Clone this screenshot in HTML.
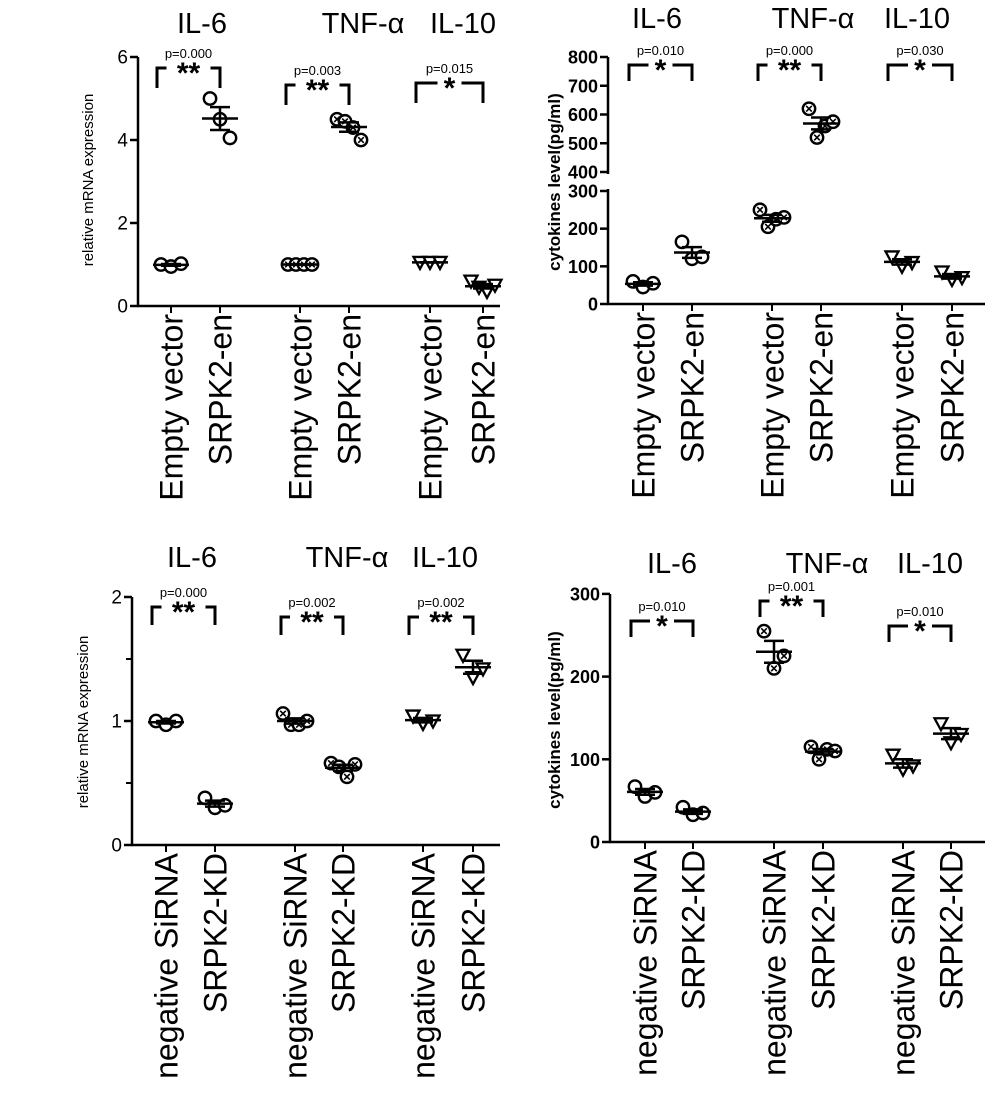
<!DOCTYPE html>
<html><head><meta charset="utf-8"><style>
html,body{margin:0;padding:0;background:#fff;}
svg{display:block;}
</style></head><body>
<svg id="chart" width="992" height="1108" viewBox="0 0 992 1108" xmlns="http://www.w3.org/2000/svg" font-family="Liberation Sans, Arial, sans-serif"></svg>
<script>
// ---- data ----
const cytokines = ['IL-6','TNF-α','IL-10'];
const topLabels = ['Empty vector','SRPK2-en'];
const botLabels = ['negative SiRNA','SRPK2-KD'];
const tlValues = [[1.0,0.95,1.02],[5.0,4.5,4.05],[1,1,1,1],[4.5,4.45,4.3,4.0],[1.05,1.05,1.05],[0.6,0.45,0.35,0.5]];
const tlP = ['p=0.000','p=0.003','p=0.015'];
const tlStars = ['**','**','*'];
const tlTicks = [0,2,4,6];
const trValues = [[60,45,55],[165,120,125],[250,205,225,230],[620,520,560,575],[125,100,110],[85,65,70]];
const trP = ['p=0.010','p=0.000','p=0.030'];
const trStars = ['*','**','*'];
const trTicksLow = [0,100,200,300];
const trTicksHigh = [400,500,600,700,800];
const blValues = [[1.0,0.97,1.0],[0.38,0.3,0.32],[1.06,0.97,0.97,1.0],[0.66,0.63,0.55,0.65],[1.04,0.98,1.0],[1.53,1.35,1.42]];
const blP = ['p=0.000','p=0.002','p=0.002'];
const blStars = ['**','**','**'];
const blTicks = [0,1,2];
const blMinor = [0.5,1.5];
const brValues = [[67,55,60],[42,33,35],[255,210,225],[115,100,112,110],[105,88,92],[143,120,130]];
const brP = ['p=0.010','p=0.001','p=0.010'];
const brStars = ['*','**','*'];
const brTicks = [0,100,200,300];

const svg = document.getElementById('chart');
const NS = 'http://www.w3.org/2000/svg';
function mk(tag, attrs, parent, text){
  const e = document.createElementNS(NS, tag);
  for (const k in attrs) e.setAttribute(k, attrs[k]);
  if (text !== undefined) e.textContent = text;
  (parent||svg).appendChild(e);
  return e;
}
function line(g,x1,y1,x2,y2,w){ return mk('line',{x1,y1,x2,y2,stroke:'#000','stroke-width':w||2.5},g); }

function marker(g, type, x, y){
  if (type === 2){
    const p = mk('path',{d:`M${x-6.5},${y-5.5} L${x+6.5},${y-5.5} L${x},${y+6.5} Z`,fill:'#fff',stroke:'#000','stroke-width':2.3},g);
    
    
  } else {
    const c = mk('circle',{cx:x,cy:y,r:6.2,fill:'#fff',stroke:'#000','stroke-width':2.4},g);
    
    
    if (type === 1){
      mk('path',{d:`M${x-2.8},${y-2.8}L${x+2.8},${y+2.8}M${x+2.8},${y-2.8}L${x-2.8},${y+2.8}`,stroke:'#000','stroke-width':1.6},g);
    }
  }
}

function panel(cfg){
  const g = mk('g',{});
  
  
  const y = cfg.yScale;
  const ax = mk('g',{},g);
  
  
  cfg.axisSegments.forEach(s => line(ax, cfg.axX, s[0], cfg.axX, s[1], 2.5));
  cfg.ticks.forEach(t => {
    line(ax, cfg.axX - 8, y(t), cfg.axX, y(t), 2.5);
    const tl = mk('text',{x:cfg.axX-10,y:y(t)+6.5,'text-anchor':'end','font-size':cfg.tickFont,'font-weight':cfg.bold?'bold':'normal'},ax, String(t));
    
    
  });
  (cfg.minor||[]).forEach(t => line(ax, cfg.axX - 6, y(t), cfg.axX, y(t), 2));
  const yt = mk('text',{transform:`translate(${cfg.ytX},${cfg.ytY}) rotate(-90)`,'text-anchor':'middle','font-size':cfg.ytFont,'font-weight':cfg.bold?'bold':'normal'},g, cfg.yTitle);
  
  
  const xa = mk('g',{},g);
  
  
  line(xa, cfg.axX-1, y(0), cfg.axEnd, y(0), 2.5);
  cfg.xs.forEach((gx,i) => {
    line(xa, gx, y(0), gx, y(0)+7, 2);
    const lb = mk('text',{transform:`translate(${gx+cfg.labFont*0.36},${y(0)+8}) rotate(-90)`,'text-anchor':'end','font-size':cfg.labFont},xa, cfg.labels[i%2]);
    
    
  });
  cytokines.forEach((c,i) => {
    const t = mk('text',{x:cfg.titleX[i],y:cfg.titleY,'text-anchor':'middle','font-size':29},g,c);
    
    
  });
  cfg.values.forEach((vals,gi) => {
    const gg = mk('g',{},g);
    
    
    const type = Math.floor(gi/2);
    const cx = cfg.xs[gi];
    const n = vals.length;
    vals.forEach((v,k) => {
      const off = (k - (n-1)/2) * (n===4?8:10);
      marker(gg, type, cx+off, y(v));
    });
    const mean = vals.reduce((a,b)=>a+b,0)/n;
    const sd = Math.sqrt(vals.reduce((a,b)=>a+(b-mean)*(b-mean),0)/(n-1));
    const sem = sd/Math.sqrt(n);
    const ml = line(gg, cx-18, y(mean), cx+18, y(mean), 2.5);
    
    
    line(gg, cx, y(mean+sem), cx, y(mean-sem), 2.5);
    line(gg, cx-10, y(mean+sem), cx+10, y(mean+sem), 2.5);
    line(gg, cx-10, y(mean-sem), cx+10, y(mean-sem), 2.5);
  });
  cytokines.forEach((c,i) => {
    const bg = mk('g',{},g);
    
    
    const x1 = cfg.xs[2*i]-14, x2 = cfg.xs[2*i+1], top = cfg.brTop[i], bot = top+cfg.brLeg;
    const cxm = (x1+x2)/2;
    const sw = cfg.stars[i].length === 2 ? 22 : 12;
    mk('path',{d:`M${x1},${bot}L${x1},${top}L${cxm-sw},${top}M${cxm+sw},${top}L${x2},${top}L${x2},${bot}`,fill:'none',stroke:'#000','stroke-width':3},bg);
    mk('text',{x:cxm,y:top+15,'text-anchor':'middle','font-size':30,'font-weight':'bold'},bg,cfg.stars[i]);
    const pt = mk('text',{x:cxm,y:top-10,'text-anchor':'middle','font-size':13},bg,cfg.p[i]);
    
    
  });
}

panel({name:'panel-mrna-overexpression', values:tlValues, p:tlP, stars:tlStars, ticks:tlTicks,
  yScale:v=>306-v*41.5, axisSegments:[[57,306]], axX:138, axEnd:500,
  xs:[171,220,300,349,430,483], labels:topLabels, labFont:32, tickFont:19,
  titleX:[202,363,463], titleY:33, brTop:[68,85,83], brLeg:20,
  yTitle:'relative mRNA expression', ytX:93, ytY:180, ytFont:15, bold:false});
panel({name:'panel-cytokines-overexpression', values:trValues, p:trP, stars:trStars, ticks:trTicksLow.concat(trTicksHigh),
  yScale:v=> v<=300 ? 304-v*0.3767 : 172-(v-400)*0.2875, axisSegments:[[57,174],[189,304]], axX:608, axEnd:985,
  xs:[643,692,772,821,902,952], labels:topLabels, labFont:32, tickFont:18,
  titleX:[657,813,917], titleY:28, brTop:[65,65,65], brLeg:16,
  yTitle:'cytokines level(pg/ml)', ytX:560, ytY:182, ytFont:17, bold:true});
panel({name:'panel-mrna-knockdown', values:blValues, p:blP, stars:blStars, ticks:blTicks, minor:blMinor,
  yScale:v=>845-v*124, axisSegments:[[597,845]], axX:132, axEnd:500,
  xs:[166,215,295,343,423,473], labels:botLabels, labFont:32, tickFont:19,
  titleX:[192,347,445], titleY:567, brTop:[607,617,617], brLeg:18,
  yTitle:'relative mRNA expression', ytX:88, ytY:722, ytFont:15, bold:false});
panel({name:'panel-cytokines-knockdown', values:brValues, p:brP, stars:brStars, ticks:brTicks,
  yScale:v=>842-v*0.827, axisSegments:[[594,842]], axX:610, axEnd:985,
  xs:[645,693,774,823,903,951], labels:botLabels, labFont:32, tickFont:18,
  titleX:[672,827,930], titleY:573, brTop:[621,601,626], brLeg:16,
  yTitle:'cytokines level(pg/ml)', ytX:560, ytY:720, ytFont:17, bold:true});
</script>
</body></html>
